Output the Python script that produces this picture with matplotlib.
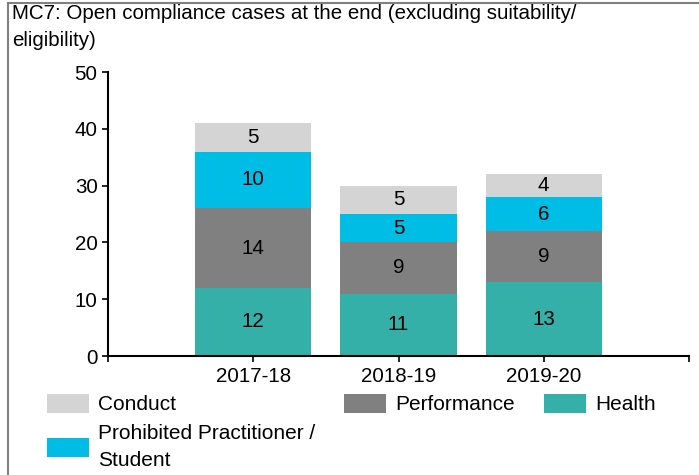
import matplotlib
matplotlib.use("Agg")
from matplotlib import pyplot as plt
from matplotlib.lines import Line2D
import numpy as np

plt.rcParams['font.family'] = ['Liberation Sans', 'DejaVu Sans']

years = ['2017-18', '2018-19', '2019-20']
health = [12, 11, 13]
performance = [14, 9, 9]
prohibited = [10, 5, 6]
conduct = [5, 5, 4]

series = [
    ('Health', health, '#35b0a9'),
    ('Performance', performance, '#808080'),
    ('Prohibited Practitioner /\nStudent', prohibited, '#00bde5'),
    ('Conduct', conduct, '#d4d4d4'),
]

W, H = 699, 475
fig = plt.figure(figsize=(W / 100, H / 100), dpi=100)
ax = fig.add_axes([108 / W, 1 - 356 / H, (689 - 108) / W, (356 - 72) / H])

x = np.arange(1, len(years) + 1)
bottom = np.zeros(len(years))
bars = {}
for name, vals, col in series:
    b = ax.bar(x, vals, 0.8, bottom=bottom, color=col, label=name, zorder=2)
    for xi, bi, v in zip(x, bottom, vals):
        ax.text(xi, bi + v / 2, str(v), ha='center', va='center', fontsize=14.8)
    bars[name] = b
    bottom = bottom + np.array(vals)

ax.set_xlim(0, len(years) + 1)
ax.set_ylim(0, 50)
ax.set_yticks(range(0, 51, 10))
ax.set_xticks(range(0, len(years) + 2))
ax.set_xticklabels([''] + years + [''])
ax.tick_params(axis='both', labelsize=14.8, length=4, width=1.2, direction='out')
ax.tick_params(axis='x', pad=4)
for s in ['top', 'right']:
    ax.spines[s].set_visible(False)
for s in ['left', 'bottom']:
    ax.spines[s].set_linewidth(1.5)

fig.text(12 / W, 1 - 4 / H,
         'MC7: Open compliance cases at the end (excluding suitability/\neligibility)',
         ha='left', va='top', fontsize=14.8, linespacing=1.5)

order = ['Conduct', 'Prohibited Practitioner /\nStudent', 'Performance', 'Health']
leg = fig.legend([bars[k] for k in order], order, loc='upper left',
                 bbox_to_anchor=(47 / W, 1 - 394 / H), ncol=3, frameon=False,
                 fontsize=15, borderpad=0, borderaxespad=0,
                 handlelength=2.0, handleheight=1.0, handletextpad=0.45,
                 columnspacing=1.4, labelspacing=0.45)
for t in leg.get_texts():
    t.set_linespacing(1.55)

# grey frame along the top and left edges
fig.add_artist(Line2D([8 / W, 8 / W], [0, 1 - 3 / H], color='#808080', lw=1.5))
fig.add_artist(Line2D([8 / W, 1], [1 - 3 / H, 1 - 3 / H], color='#808080', lw=1.5))

fig.savefig('out.png', dpi=100)
